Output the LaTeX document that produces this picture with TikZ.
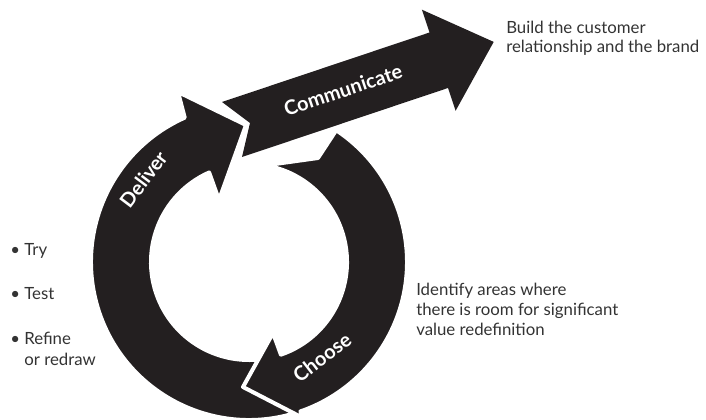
\documentclass[tikz,border=0pt]{standalone}
\usepackage{fontspec}
\setmainfont{Lato}
\usetikzlibrary{calc}
\definecolor{inkblack}{HTML}{231F20}
\definecolor{notegray}{HTML}{333333}

\begin{document}
\begin{tikzpicture}[x=0.75pt, y=0.75pt,
    band/.style={fill=inkblack},
    cutband/.style={fill=inkblack, draw=white, line width=3pt, line join=round},
    arclabel/.style={text=white, font=\bfseries\fontsize{15}{18}\selectfont, inner sep=0pt},
    note/.style={text=notegray, align=left, inner sep=0pt, anchor=north west}]
  \useasboundingbox (0,0) rectangle (706,420);
  \coordinate (c) at (249,158);

  % straight arrow, tail notched round the tip of the left arc
  \fill[band] (222,318) -- (250,297) -- (242,263) -- (448,332) -- (455.6,309.2)
    -- (493.7,378.1) -- (421.9,410.3) -- (429.5,387.5) -- cycle;

  % left arc, its tail runs under the head of the right arc
  \filldraw[cutband] ($(c)+(-74:158)$) arc[start angle=-74, end angle=-246, radius=158]
    -- (178,328) -- (246,295) -- (219,220)
    -- ($(c)+(114:98)$) arc[start angle=114, end angle=286, radius=98] -- cycle;

  % right arc
  \filldraw[cutband] ($(c)+(56.5:158)$) arc[start angle=56.5, end angle=-71, radius=158]
    -- (303,2) -- (243,33) -- (273,87)
    -- ($(c)+(-71:98)$) arc[start angle=-71, end angle=80.4, radius=98]
    -- (318,262) -- cycle;

  \node[arclabel, rotate=18.5] (communicate) at (343,330) {Communicate};
  \node[arclabel, rotate=53] (deliver) at ($(c)+(142:134)$) {Deliver};
  \node[arclabel, rotate=37.5] (choose) at ($(c)+(-52.5:120)$) {Choose};

  \begin{scope}[font=\fontsize{12.6}{13.9}\selectfont]
    \node[note] (brand) at (506,399) {Build the customer\\relationship and the brand};
  \end{scope}
  \begin{scope}[font=\fontsize{12.6}{15}\selectfont]
    \node[note] (identify) at (416,137) {Identify areas where\\there is room for significant\\value redefinition};
  \end{scope}
  \begin{scope}[font=\fontsize{12.6}{16}\selectfont]
    \node[note] (try) at (10,177) {\textbullet\ Try};
    \node[note] (test) at (10,133) {\textbullet\ Test};
    \node[note] (refine) at (10,88) {\textbullet\ Refine\\\phantom{\textbullet\ }or redraw};
  \end{scope}
\end{tikzpicture}
\end{document}
